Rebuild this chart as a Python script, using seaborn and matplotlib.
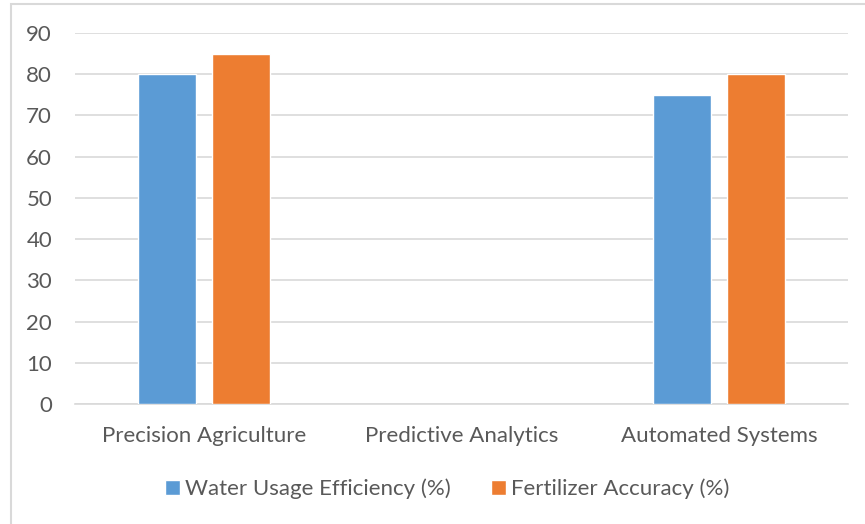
import numpy as np
import pandas as pd
import matplotlib.pyplot as plt
import seaborn as sns
from matplotlib.patches import Rectangle

# chart values
categories = ["Precision Agriculture", "Predictive Analytics", "Automated Systems"]
water_usage = [80, np.nan, 75]
fertilizer_acc = [85, np.nan, 80]
series_names = ["Water Usage Efficiency (%)", "Fertilizer Accuracy (%)"]
y_ticks = [0, 10, 20, 30, 40, 50, 60, 70, 80, 90]

df = pd.DataFrame({
    "category": categories * 2,
    "value": water_usage + fertilizer_acc,
    "series": [series_names[0]] * 3 + [series_names[1]] * 3,
})

sns.set_theme(style="white")
plt.rcParams["font.family"] = ["Lato", "DejaVu Sans"]

text_col = "#595959"
grid_col = "#D9D9D9"

fig = plt.figure(figsize=(8.65, 5.24), dpi=100)
ax = fig.add_axes([75 / 865, 1 - 404 / 524, 773 / 865, 371 / 524])

sns.barplot(data=df, x="category", y="value", hue="series",
            palette=["#5B9BD5", "#ED7D31"], saturation=1,
            width=0.574, gap=0.216, errorbar=None, ax=ax, zorder=3)

ax.set_xlim(-0.5, 2.5)
ax.set_ylim(0, 90)
ax.set_yticks(y_ticks)
ax.yaxis.grid(True, color=grid_col, linewidth=1.2, zorder=0)
ax.set_axisbelow(True)
for s in ["top", "right", "left"]:
    ax.spines[s].set_visible(False)
ax.spines["bottom"].set_color(grid_col)
ax.spines["bottom"].set_linewidth(1.2)
ax.tick_params(axis="both", length=0, labelsize=16, colors=text_col)
ax.tick_params(axis="x", pad=16)
ax.tick_params(axis="y", pad=16.5)
ax.set_xlabel("")
ax.set_ylabel("")

ax.legend(loc="center", bbox_to_anchor=(447 / 865, 1 - 489 / 524),
          bbox_transform=fig.transFigure, ncol=2, frameon=False,
          fontsize=16, labelcolor=text_col, handlelength=0.7,
          handleheight=0.7, handletextpad=0.2, columnspacing=1.8)

# outer chart frame (only left and top edges visible)
fig.patches.append(Rectangle((11 / 865, -0.1), 1.2, 1 - 4 / 524 + 0.1,
                             transform=fig.transFigure, fill=False,
                             edgecolor=grid_col, linewidth=1.5))

fig.savefig("out.png", dpi=100)
